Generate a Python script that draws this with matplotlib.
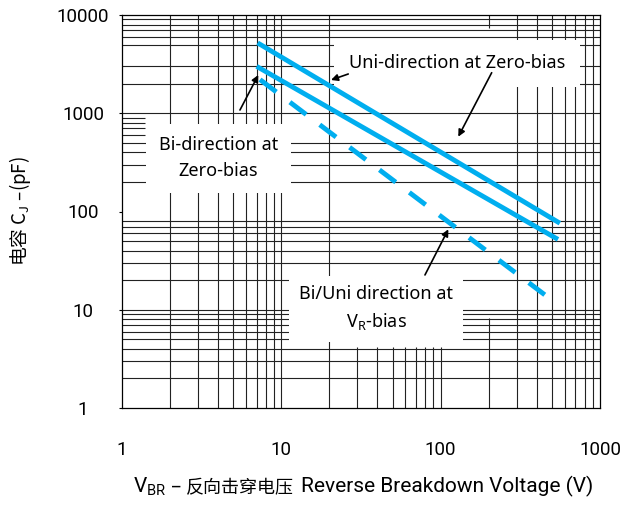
import matplotlib
matplotlib.use("Agg")
import matplotlib.pyplot as plt
from matplotlib.offsetbox import TextArea, HPacker, AnnotationBbox

plt.rcParams["font.family"] = ["Roboto", "Noto Sans CJK SC", "DejaVu Sans"]

# curves (end points, straight on log-log)
vbr_uni_zero = [7.1, 560]
cj_uni_zero = [5200, 76]
vbr_bi_zero = [7.0, 545]
cj_bi_zero = [3000, 52]
vbr_vr_bias = [7.35, 450]
cj_vr_bias = [2200, 14.2]

x_ticks = [1, 10, 100, 1000]
y_ticks = [1, 10, 100, 1000, 10000]

# the drawn grid is not complete in the original
h_grid_skip = [90, 100, 4000]
h_grid_short = [600, 700, 800, 900]      # only near the left edge
v_grid_low = [30, 40, 50, 60, 70, 80, 90, 100]   # only in the lowest part
v_grid_split = [200]                     # gap through the middle

blue = "#00aeef"
grid_kw = dict(color="#222222", lw=0.8, zorder=1)

fig = plt.figure(figsize=(6.2, 5.05), dpi=100)
ax = fig.add_axes([122 / 620, 1 - 408 / 505, 478 / 620, 393 / 505])
ax.set_xscale("log")
ax.set_yscale("log")
ax.set_xlim(1, 1000)
ax.set_ylim(1, 10000)

# grid
for d in [1, 10, 100]:
    for k in range(1, 10):
        v = d * k
        if v == 1:
            continue
        if v in v_grid_low:
            ax.vlines(v, 1, 4.2, **grid_kw)
        elif v in v_grid_split:
            ax.vlines(v, 1, 8.2, **grid_kw)
            ax.vlines(v, 7400, 10000, **grid_kw)
        else:
            ax.axvline(v, **grid_kw)
for d in [1, 10, 100, 1000]:
    for k in range(1, 10):
        v = d * k
        if v == 1 or v in h_grid_skip:
            continue
        if v in h_grid_short:
            ax.hlines(v, 1, 1.4, **grid_kw)
        else:
            ax.axhline(v, **grid_kw)

# curves
ax.plot(vbr_uni_zero, cj_uni_zero, color=blue, lw=3.5, solid_capstyle="butt", zorder=4)
ax.plot(vbr_bi_zero, cj_bi_zero, color=blue, lw=3.5, solid_capstyle="butt", zorder=4)
ax.plot(vbr_vr_bias, cj_vr_bias, color=blue, lw=3.5, dashes=(4.2, 3.5),
        dash_capstyle="butt", zorder=4)

# labels with white boxes
txt_kw = dict(family="Noto Sans", fontsize=13, ha="center", va="center", zorder=3,
              linespacing=1.55)
ax.text(126.6, 3224, "Uni-direction at Zero-bias",
        bbox=dict(boxstyle="square,pad=0.8", fc="white", ec="none"), **txt_kw)
ax.text(4.02, 350, "Bi-direction at\nZero-bias",
        bbox=dict(boxstyle="square,pad=0.7", fc="white", ec="none"), **txt_kw)
ax.text(39.5, 10.3, "Bi/Uni direction at\nV$_\\mathregular{R}$-bias",
        bbox=dict(boxstyle="square,pad=0.55", fc="white", ec="none"), **txt_kw)

arrow = dict(arrowstyle="-|>", color="black", lw=1.2, mutation_scale=10,
             shrinkA=0, shrinkB=0)
ax.annotate("", xy=(20.5, 2180), xytext=(26.3, 2509), arrowprops=arrow, zorder=5)
ax.annotate("", xy=(129, 577), xytext=(209, 2586), arrowprops=arrow, zorder=5)
ax.annotate("", xy=(7.17, 2451), xytext=(5.5, 1079), arrowprops=arrow, zorder=5)
ax.annotate("", xy=(111.7, 65.9), xytext=(79.7, 22.6), arrowprops=arrow, zorder=5)

# axes
ax.set_xticks(x_ticks)
ax.set_xticklabels([str(v) for v in x_ticks])
ax.set_yticks(y_ticks)
ax.set_yticklabels([str(v) for v in y_ticks])
ax.set_xticks([], minor=True)
ax.set_yticks([], minor=True)
ax.tick_params(axis="y", length=2, width=0.8, pad=26, labelsize=13.5)
ax.tick_params(axis="x", length=0, pad=24, labelsize=13.5)
for lab in ax.get_yticklabels():
    lab.set_horizontalalignment("center")
for s in ax.spines.values():
    s.set_linewidth(0.9)
    s.set_color("black")

# x label: Latin and Chinese parts in different fonts
part1 = TextArea("V$_\\mathregular{BR}$ –", textprops=dict(family="Roboto", size=15))
part2 = TextArea("反向击穿电压", textprops=dict(family="Noto Sans CJK SC", size=13))
part3 = TextArea("Reverse Breakdown Voltage (V)", textprops=dict(family="Roboto", size=15))
inner = HPacker(children=[part1, part2], sep=3, pad=0, align="baseline")
xlab = HPacker(children=[inner, part3], sep=5, pad=0, align="baseline")
fig.add_artist(AnnotationBbox(xlab, (363, 505 - 487), xycoords="figure pixels",
                              box_alignment=(0.5, 0.5), frameon=False, pad=0))

fig.text(20 / 620, 1 - 211.5 / 505, "电容 C$_\\mathregular{J}$ –(pF)",
         family="Noto Sans CJK SC", ha="center", va="center", rotation=90, fontsize=13.5)

fig.savefig("out.png", dpi=100)
